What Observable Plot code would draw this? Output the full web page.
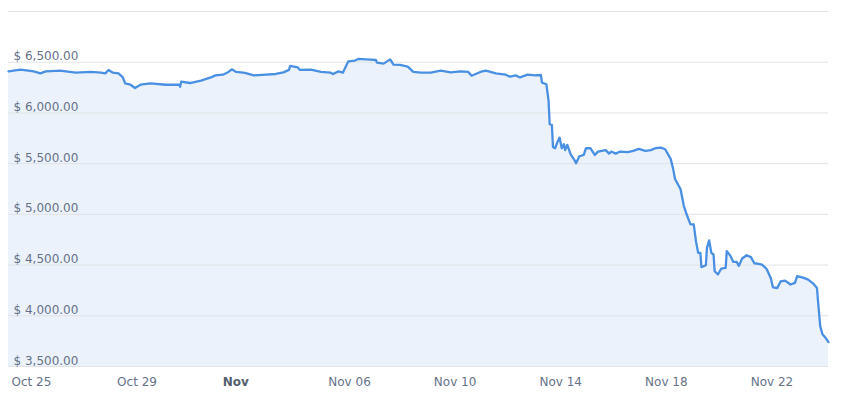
<!DOCTYPE html>
<html>
<head>
<meta charset="utf-8">
<script src="https://cdn.jsdelivr.net/npm/d3@7"></script>
<script src="https://cdn.jsdelivr.net/npm/@observablehq/plot@0.6"></script>
<style>
  html, body { margin: 0; padding: 0; background: #fff; }
  svg { display: block; }
</style>
</head>
<body>
<script>
// Hours since 2018-10-25 00:00 UTC
const hours = [0,11,23,29,34,47,61,75,84,88,91,95,100,104,106,111,115,120,129,143,155,156,157,165,175,184,188,195,200,203,207,215,223,234,243,250,255,256,263,265,275,284,293,295,300,304,307,309,315,318,329,334,335,341,347,350,356,363,368,375,384,393,402,411,418,421,429,434,443,452,456,461,465,472,479,484,485,489,491,492,494,495,497,499,501,503,505,506,508,511,515,516,519,523,525,529,533,536,543,546,548,552,556,563,568,573,579,584,588,593,597,602,604,606,611,614,616,620,623,625,627,629,630,634,635,637,639,641,642,645,648,652,653,656,659,662,664,667,671,675,678,682,685,689,693,695,699,702,706,711,715,717,723,727,732,735,736,738,740,743,745.5];
const prices = [6410,6427,6410,6390,6410,6417,6397,6404,6397,6390,6424,6397,6390,6350,6291,6278,6246,6278,6291,6278,6278,6258,6308,6295,6318,6350,6370,6377,6404,6430,6404,6394,6370,6377,6384,6400,6424,6463,6449,6424,6427,6404,6397,6384,6410,6397,6466,6509,6516,6532,6525,6522,6496,6486,6528,6476,6473,6456,6404,6397,6397,6417,6400,6410,6404,6367,6404,6417,6390,6377,6357,6370,6350,6377,6370,6374,6298,6283,6120,5890,5883,5665,5652,5712,5757,5652,5692,5633,5685,5593,5527,5504,5573,5586,5652,5652,5586,5619,5633,5599,5619,5599,5619,5613,5626,5645,5626,5633,5652,5658,5642,5547,5461,5349,5247,5082,5016,4901,4901,4736,4620,4620,4479,4499,4670,4743,4620,4604,4439,4407,4466,4472,4637,4597,4531,4531,4492,4565,4597,4578,4518,4511,4505,4466,4373,4281,4274,4340,4347,4308,4324,4390,4373,4357,4314,4274,4143,3895,3819,3780,3740];

const gridValues = [3500,4000,4500,5000,5500,6000,6500,7000];
const yLabelValues = [3500,4000,4500,5000,5500,6000,6500];
const xTickDates = ["2018-10-25","2018-10-29","2018-11-02","2018-11-06","2018-11-10","2018-11-14","2018-11-18","2018-11-22"];
const xTickLabels = ["Oct 25","Oct 29","Nov","Nov 06","Nov 10","Nov 14","Nov 18","Nov 22"];
const xTickBold = [false,false,true,false,false,false,false,false];

const start = Date.UTC(2018, 9, 25);
const data = hours.map((h, i) => ({date: new Date(start + h * 3600e3), price: prices[i]}));
const xTicks = xTickDates.map((d, i) => ({date: new Date(d + "T00:00:00Z"), label: xTickLabels[i], bold: xTickBold[i]}));
const fmt = v => "$ " + d3.format(",.2f")(v);

const textColor = "#66728a";

const chart = Plot.plot({
  width: 844,
  height: 400,
  marginLeft: 8,
  marginRight: 16,
  marginTop: 11,
  marginBottom: 34,
  style: {fontFamily: "DejaVu Sans", fontSize: "12px", background: "#fff"},
  x: {type: "utc", domain: [data[0].date, data[data.length - 1].date], axis: null},
  y: {domain: [3500, 7000], axis: null},
  marks: [
    Plot.areaY(data, {x: "date", y1: 3500, y2: "price", fill: "#ebf2fb", curve: "linear"}),
    Plot.ruleY(gridValues, {stroke: "#e1e3e6", strokeWidth: 1}),
    Plot.lineY(data, {x: "date", y: "price", stroke: "#4a90e2", strokeWidth: 2.3, strokeLinejoin: "round", strokeLinecap: "round", curve: "linear"}),
    Plot.text(yLabelValues, {
      x: () => data[0].date, y: d => d, text: fmt,
      textAnchor: "start", lineAnchor: "bottom", dx: 5, dy: -2,
      fill: textColor, fontSize: 12
    }),
    Plot.text(xTicks.filter(d => !d.bold), {
      x: "date", text: "label", frameAnchor: "bottom",
      textAnchor: "start", lineAnchor: "middle", dx: 3, dy: 16,
      fill: textColor, fontSize: 12, clip: false
    }),
    Plot.text(xTicks.filter(d => d.bold), {
      x: "date", text: "label", frameAnchor: "bottom",
      textAnchor: "start", lineAnchor: "middle", dx: 3, dy: 16,
      fill: "#545e6e", fontSize: 12, fontWeight: "bold", clip: false
    })
  ]
});
document.body.appendChild(chart);
</script>
</body>
</html>
